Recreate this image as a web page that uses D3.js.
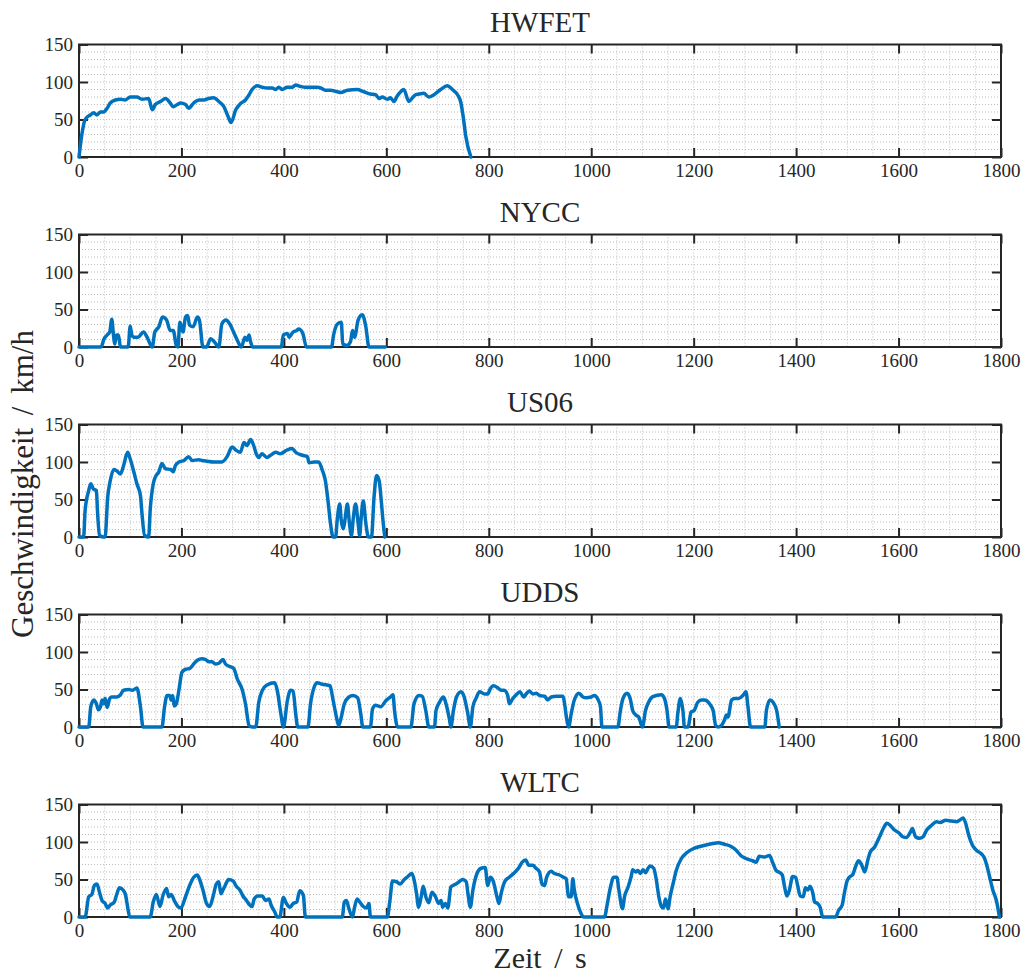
<!DOCTYPE html>
<html>
<head>
<meta charset="utf-8">
<script src="https://cdn.jsdelivr.net/npm/d3@7"></script>
<style>
  html, body { margin: 0; padding: 0; background: #fff; }
  svg text { font-family: "Liberation Serif", "DejaVu Serif", serif; fill: #262626; }
</style>
</head>
<body>
<div id="chart"></div>
<script>
// Fahrzyklen: Geschwindigkeit über Zeit, fünf Teilplots untereinander

const cycleNames = ['HWFET', 'NYCC', 'US06', 'UDDS', 'WLTC'];
const xTicks = [0, 200, 400, 600, 800, 1000, 1200, 1400, 1600, 1800];
const yTicks = [0, 50, 100, 150];

// [Zeit s, Geschwindigkeit km/h]
const hwfet = [[0,0],[6,32],[12,50],[22,56],[29,59],[35,56],[42,60],[48,60],[55,65],[61,72],[71,76],[81,77],[90,76],[100,80],[113,80],[123,77],[136,78],[143,63],[149,70],[159,74],[169,78],[178,72],[184,67],[192,70],[198,72],[208,70],[214,65],[224,72],[234,76],[244,76],[253,78],[263,79],[273,74],[283,67],[291,54],[297,46],[306,63],[315,71],[325,76],[332,83],[338,90],[348,95],[358,93],[367,92],[377,92],[384,90],[390,93],[397,90],[406,93],[416,93],[423,96],[433,94],[442,93],[452,93],[465,93],[472,92],[481,89],[491,89],[504,87],[511,86],[524,89],[543,90],[556,87],[569,84],[579,83],[586,78],[592,80],[602,77],[608,79],[615,74],[621,81],[628,87],[634,90],[644,74],[651,79],[657,83],[664,84],[673,85],[683,80],[693,83],[706,90],[719,95],[729,90],[739,83],[745,74],[750,54],[755,28],[765,0]];

const nycc = [[0,0],[43,0],[49,11],[55,16],[60,20],[64,37],[67,18],[70,4],[73,16],[77,16],[81,0],[96,0],[100,28],[103,16],[107,13],[115,13],[126,20],[133,13],[143,0],[148,20],[156,27],[163,40],[171,36],[178,22],[184,22],[190,2],[193,0],[197,33],[203,20],[208,40],[212,42],[216,29],[223,27],[231,40],[235,36],[242,0],[249,0],[257,11],[264,7],[273,0],[279,31],[287,36],[294,31],[303,18],[309,9],[317,0],[324,13],[328,9],[332,16],[335,7],[339,0],[395,0],[399,16],[407,18],[410,13],[418,20],[425,22],[429,24],[437,18],[444,0],[493,0],[497,16],[505,31],[512,33],[515,4],[523,2],[530,7],[534,22],[538,13],[545,36],[553,43],[560,27],[566,0],[598,0]];

const us06 = [[0,0],[9,0],[12,36],[19,62],[23,71],[28,64],[34,62],[36,36],[40,2],[48,0],[51,0],[56,53],[61,75],[68,90],[74,88],[81,84],[87,95],[95,113],[100,104],[107,87],[113,71],[120,55],[123,31],[128,2],[136,0],[139,36],[145,71],[149,80],[156,87],[162,98],[169,91],[179,90],[184,87],[188,95],[195,100],[205,102],[214,107],[221,102],[234,103],[240,102],[250,101],[263,100],[273,100],[279,100],[289,107],[299,120],[306,116],[315,113],[322,126],[328,122],[335,130],[341,122],[346,111],[351,106],[357,111],[367,106],[374,109],[384,113],[393,111],[406,116],[416,118],[423,113],[436,109],[446,107],[449,99],[459,100],[468,100],[475,89],[481,75],[486,49],[491,18],[496,0],[501,0],[504,22],[509,44],[512,22],[516,11],[519,22],[524,44],[528,18],[532,2],[535,22],[540,44],[545,18],[548,2],[551,27],[555,48],[560,18],[565,0],[571,0],[576,53],[581,82],[586,75],[590,49],[594,18],[597,0]];

const udds = [[0,0],[19,0],[23,27],[29,36],[34,31],[38,23],[42,27],[45,36],[48,31],[51,38],[55,26],[60,38],[64,40],[74,40],[81,43],[87,49],[97,50],[104,49],[110,51],[113,52],[120,27],[125,0],[162,0],[167,27],[172,42],[177,42],[180,36],[183,42],[186,28],[190,31],[195,49],[201,73],[208,77],[216,78],[224,84],[231,89],[240,91],[247,90],[253,87],[260,87],[266,84],[273,85],[281,90],[286,84],[293,81],[302,78],[309,64],[319,49],[325,31],[332,2],[338,0],[345,0],[351,33],[358,49],[367,56],[382,59],[387,49],[394,18],[399,0],[407,36],[413,49],[418,48],[423,18],[427,0],[447,0],[452,31],[459,53],[465,59],[475,57],[490,55],[496,36],[504,9],[507,2],[512,13],[518,31],[527,40],[535,42],[544,39],[550,18],[554,0],[569,0],[573,24],[579,29],[589,27],[599,35],[608,40],[613,43],[616,22],[622,0],[648,0],[654,31],[664,42],[670,41],[677,22],[683,0],[694,0],[697,22],[704,33],[711,40],[718,27],[723,11],[726,0],[731,22],[737,40],[746,47],[752,40],[759,18],[764,0],[769,27],[775,38],[782,47],[792,44],[798,44],[803,51],[809,55],[818,52],[824,49],[830,49],[837,42],[840,31],[847,38],[855,44],[861,47],[868,40],[873,44],[879,48],[886,44],[893,45],[899,42],[909,41],[915,36],[922,40],[932,41],[945,41],[948,31],[952,11],[956,0],[961,18],[967,36],[976,45],[984,40],[990,39],[1000,40],[1006,42],[1013,37],[1018,27],[1021,0],[1052,0],[1057,22],[1062,38],[1070,45],[1076,38],[1081,22],[1087,16],[1093,13],[1100,0],[1106,22],[1112,33],[1119,40],[1127,42],[1137,43],[1143,38],[1148,22],[1152,0],[1166,0],[1169,18],[1174,38],[1179,22],[1182,0],[1189,0],[1195,20],[1201,22],[1208,33],[1215,36],[1221,36],[1231,31],[1238,22],[1243,2],[1248,0],[1254,2],[1260,9],[1264,16],[1267,13],[1274,36],[1280,38],[1288,38],[1296,42],[1302,47],[1306,27],[1311,0],[1339,0],[1342,22],[1349,36],[1355,33],[1362,22],[1367,0]];

const wltc = [[0,0],[12,0],[19,27],[25,30],[30,42],[35,44],[40,33],[45,22],[51,18],[56,12],[61,16],[69,20],[74,31],[79,39],[86,36],[91,29],[95,13],[99,0],[139,0],[145,20],[151,30],[158,14],[164,29],[171,38],[175,27],[180,30],[186,22],[193,14],[199,12],[208,27],[216,42],[224,53],[231,56],[236,49],[242,36],[249,18],[255,14],[262,28],[268,44],[273,47],[277,31],[281,36],[286,43],[292,50],[301,48],[307,41],[314,36],[320,28],[327,22],[332,17],[338,14],[342,24],[349,28],[358,28],[364,22],[371,24],[375,16],[382,7],[387,0],[392,0],[399,26],[405,18],[412,13],[418,18],[425,20],[431,35],[438,29],[442,0],[514,0],[518,20],[522,22],[527,11],[534,0],[538,13],[543,24],[548,20],[555,14],[561,12],[566,18],[569,0],[602,0],[607,22],[612,48],[620,47],[627,44],[635,50],[642,54],[650,58],[655,47],[659,31],[663,13],[668,27],[672,41],[677,27],[683,19],[689,33],[696,27],[702,18],[707,22],[710,13],[715,18],[720,12],[726,40],[736,44],[742,47],[749,50],[756,47],[759,33],[764,13],[769,36],[777,58],[785,65],[793,66],[798,42],[803,53],[808,49],[816,27],[820,18],[824,31],[831,47],[840,53],[850,59],[859,66],[865,73],[872,76],[878,69],[886,69],[892,65],[899,60],[904,44],[909,42],[913,53],[922,61],[928,58],[938,56],[946,53],[951,51],[956,27],[961,27],[964,51],[967,36],[974,16],[980,5],[985,0],[1026,0],[1031,16],[1037,38],[1044,53],[1050,53],[1054,36],[1061,11],[1065,27],[1072,40],[1078,54],[1081,63],[1087,60],[1091,62],[1096,58],[1101,63],[1106,59],[1111,65],[1115,68],[1122,65],[1127,50],[1132,27],[1137,14],[1141,12],[1145,24],[1150,11],[1154,27],[1160,45],[1166,62],[1176,78],[1187,86],[1199,91],[1212,94],[1224,96],[1238,98],[1248,99],[1260,97],[1273,94],[1283,89],[1292,82],[1302,78],[1315,75],[1322,73],[1328,81],[1338,80],[1348,82],[1354,73],[1361,62],[1366,60],[1373,56],[1377,42],[1382,28],[1387,36],[1393,54],[1399,53],[1403,42],[1408,28],[1414,27],[1418,39],[1423,36],[1427,41],[1433,31],[1436,20],[1442,18],[1447,13],[1452,0],[1477,0],[1483,9],[1490,16],[1494,31],[1499,47],[1504,53],[1511,57],[1516,67],[1522,75],[1527,71],[1534,60],[1540,76],[1545,87],[1553,93],[1563,107],[1571,119],[1577,125],[1584,122],[1592,116],[1601,112],[1608,107],[1615,106],[1623,113],[1627,118],[1633,107],[1641,105],[1648,107],[1655,116],[1664,122],[1674,127],[1681,126],[1692,129],[1703,128],[1713,127],[1719,129],[1726,132],[1731,125],[1737,109],[1744,96],[1752,89],[1762,84],[1768,78],[1773,67],[1778,53],[1784,36],[1791,22],[1797,0]];

const cycles = [hwfet, nycc, us06, udds, wltc];

// Layout
const width = 1027, height = 978;
const left = 79, right = 1001;
const panelTop = 44.5, panelStep = 190, panelHeight = 112.5;
const axisColor = '#262626';
const lineColor = '#0072BD';
const serif = '"Liberation Serif", "DejaVu Serif", serif';

const svg = d3.select('#chart')
  .append('svg')
  .attr('width', width)
  .attr('height', height);

const x = d3.scaleLinear().domain([0, 1800]).range([left, right]);

function drawPanel(i) {
  const top = panelTop + i * panelStep;
  const bottom = top + panelHeight;
  const y = d3.scaleLinear().domain([0, 150]).range([bottom, top]);
  const g = svg.append('g').attr('class', 'panel');

  // minor grid, dotted
  const grid = g.append('g').attr('class', 'grid')
    .attr('stroke', '#bdbdbd')
    .attr('stroke-width', 1)
    .attr('stroke-dasharray', '1,2');

  grid.selectAll('.gx')
    .data(d3.range(50, 1800, 50))
    .join('line')
    .attr('x1', d => x(d)).attr('x2', d => x(d))
    .attr('y1', top).attr('y2', bottom);

  grid.selectAll('.gy')
    .data(d3.range(10, 150, 10))
    .join('line')
    .attr('x1', left).attr('x2', right)
    .attr('y1', d => y(d)).attr('y2', d => y(d));

  // axes with inward ticks, box on all four sides
  const fmt = d3.format('d');
  const xAxis = d3.axisBottom(x).tickValues(xTicks).tickFormat(fmt).tickSizeInner(-9).tickSizeOuter(0).tickPadding(7);
  const xTop = d3.axisTop(x).tickValues(xTicks).tickSizeInner(-9).tickSizeOuter(0).tickFormat('');
  const yAxis = d3.axisLeft(y).tickValues(yTicks).tickFormat(fmt).tickSizeInner(-9).tickSizeOuter(0).tickPadding(6);
  const yRight = d3.axisRight(y).tickValues(yTicks).tickSizeInner(-9).tickSizeOuter(0).tickFormat('');

  const axes = [
    g.append('g').attr('transform', `translate(0,${bottom})`).call(xAxis),
    g.append('g').attr('transform', `translate(0,${top})`).call(xTop),
    g.append('g').attr('transform', `translate(${left},0)`).call(yAxis),
    g.append('g').attr('transform', `translate(${right},0)`).call(yRight)
  ];
  axes.forEach(a => {
    a.attr('font-family', null);
    a.select('.domain').remove();
    a.selectAll('.tick line').attr('stroke', axisColor).attr('stroke-width', 2);
    a.selectAll('.tick text')
      .style('font-family', serif)
      .style('font-size', '19px')
      .attr('fill', axisColor);
  });

  g.append('rect')
    .attr('x', left).attr('y', top)
    .attr('width', right - left).attr('height', bottom - top)
    .attr('fill', 'none')
    .attr('stroke', axisColor)
    .attr('stroke-width', 2);

  // speed trace
  const line = d3.line()
    .x(d => x(d[0]))
    .y(d => y(d[1]))
    .curve(d3.curveMonotoneX);

  g.append('path')
    .datum(cycles[i])
    .attr('d', line)
    .attr('fill', 'none')
    .attr('stroke', lineColor)
    .attr('stroke-width', 3.5)
    .attr('stroke-linejoin', 'round')
    .attr('stroke-linecap', 'round');

  // title
  g.append('text')
    .attr('x', (left + right) / 2)
    .attr('y', top - 12.5)
    .attr('text-anchor', 'middle')
    .style('font-family', serif)
    .style('font-size', '29px')
    .text(cycleNames[i]);
}

cycleNames.forEach((name, i) => drawPanel(i));

// axis labels
svg.append('text')
  .attr('transform', 'translate(33,484) rotate(-90)')
  .attr('text-anchor', 'middle')
  .style('font-family', serif)
  .style('font-size', '31px')
  .style('word-spacing', '5px')
  .text('Geschwindigkeit / km/h');

svg.append('text')
  .attr('x', 540)
  .attr('y', 968)
  .attr('text-anchor', 'middle')
  .style('font-family', serif)
  .style('font-size', '30px')
  .style('word-spacing', '5px')
  .text('Zeit / s');
</script>
</body>
</html>
